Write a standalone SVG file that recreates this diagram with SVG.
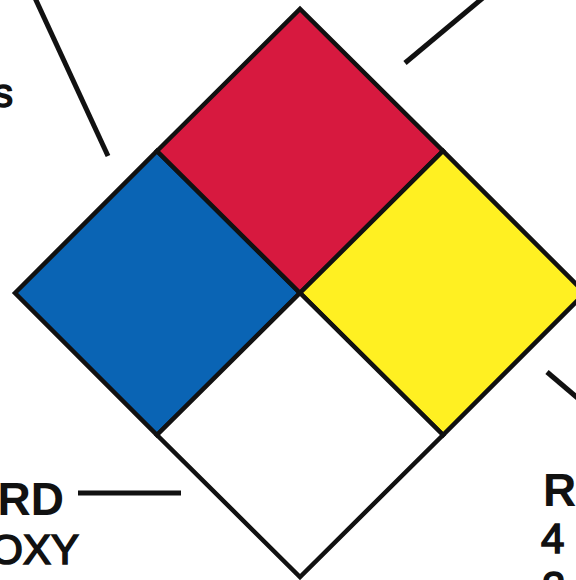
<svg xmlns="http://www.w3.org/2000/svg" width="576" height="580" viewBox="0 0 576 580">
<style>
.q{stroke:#111;stroke-width:4.5;stroke-linejoin:miter}
.ld{stroke:#111;stroke-width:5;fill:none}
.t{font-family:"Liberation Sans",Arial,sans-serif;fill:#111}
.r{stroke:#111;stroke-width:1.6}
.b{font-weight:bold}
</style>
<rect width="576" height="580" fill="#fff"/>
<g id="connectors">
<line class="ld" x1="35" y1="-2" x2="108" y2="156"/>
<line class="ld" x1="484" y1="-3" x2="405" y2="63"/>
<line class="ld" x1="547" y1="372" x2="580" y2="400"/>
<line class="ld" x1="78" y1="493" x2="181" y2="493"/>
</g>
<g id="health">
<polygon class="q" fill="#0A64B4" points="15,293 157,151 300,293 157,435"/>
</g>
<g id="flammability">
<polygon class="q" fill="#D7193F" points="157,151 300,9 443,151 300,293"/>
</g>
<g id="reactivity">
<polygon class="q" fill="#FFF022" points="300,293 443,151 585,293 443,435"/>
</g>
<g id="special">
<polygon class="q" fill="#FFFFFF" points="157,435 300,293 443,435 300,577"/>
</g>
<g id="labels">
<text class="t r" x="13" y="107" font-size="40" text-anchor="end">s</text>
<text class="t b" x="64" y="515" font-size="46" text-anchor="end">RD</text>
<text class="t r" x="79" y="564" font-size="42" text-anchor="end">OXY</text>
<text class="t b" x="543" y="506" font-size="46">R</text>
<text class="t r" x="541" y="553" font-size="42">4</text>
<text class="t r" x="542" y="601" font-size="42">2</text>
</g>
</svg>
